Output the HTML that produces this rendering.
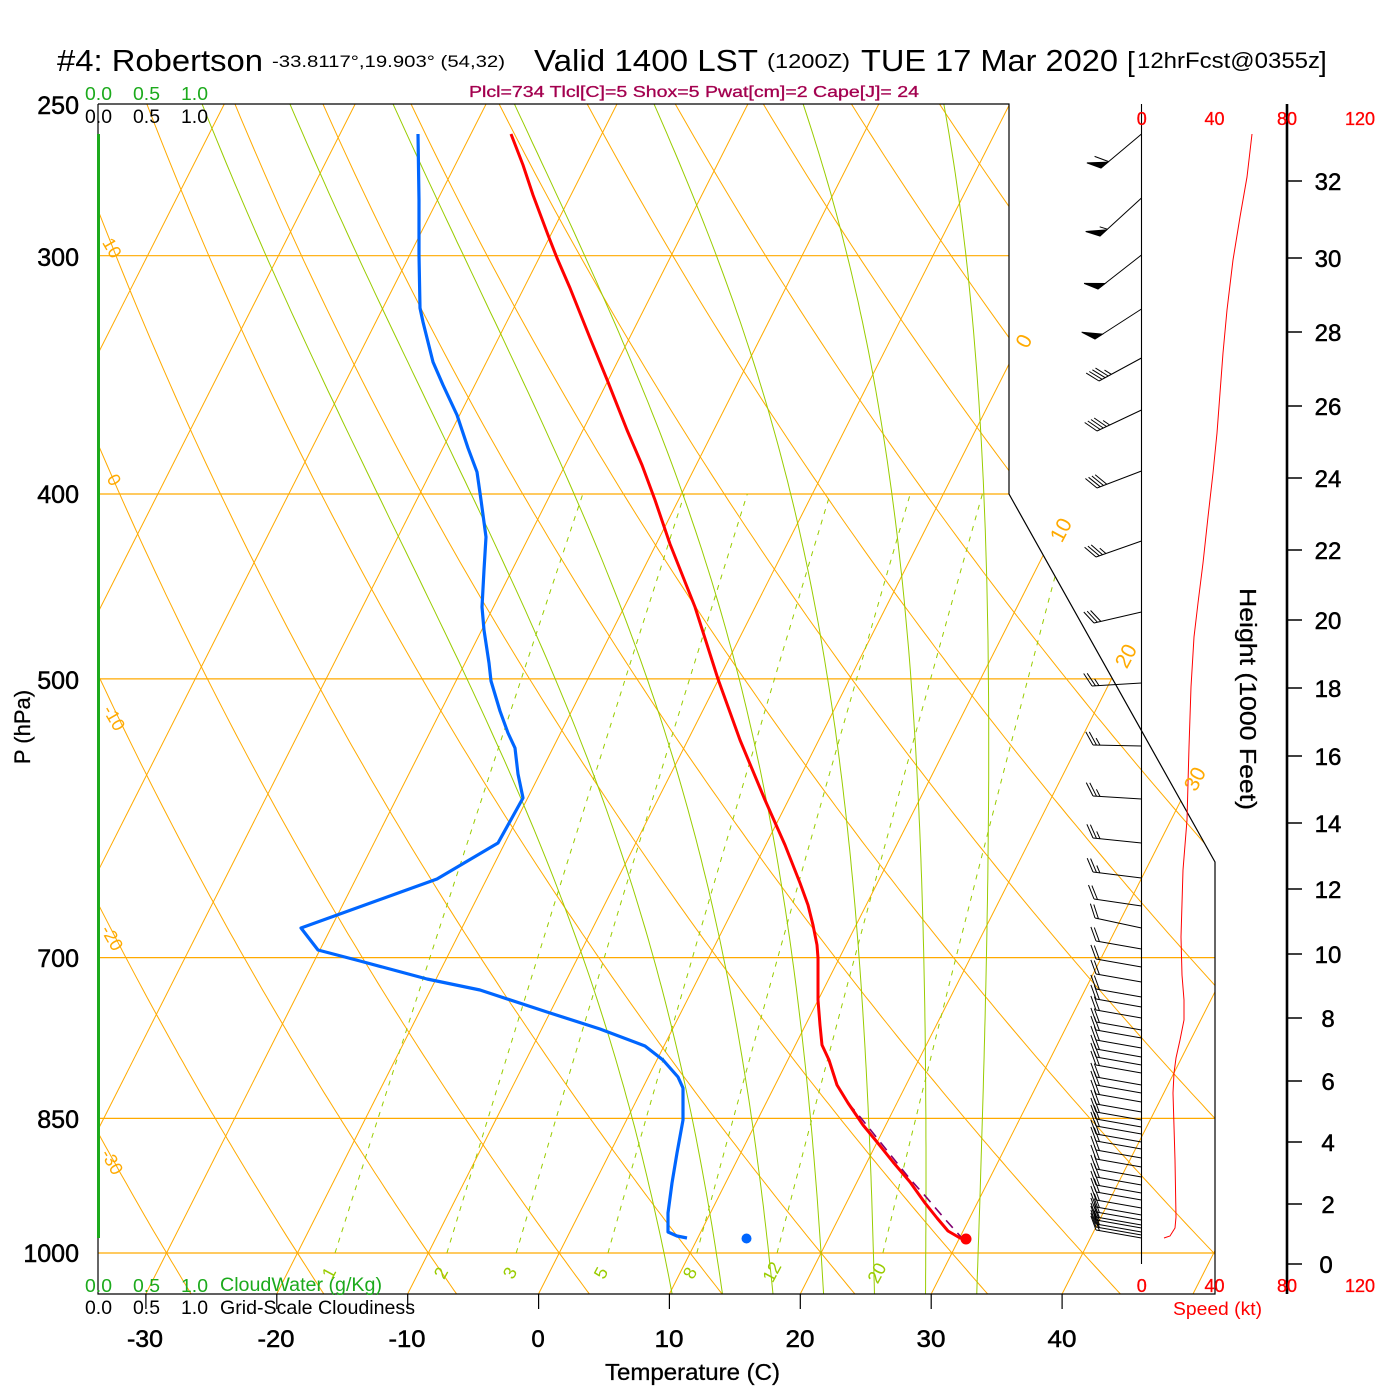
<!DOCTYPE html>
<html><head><meta charset="utf-8">
<style>
html,body{margin:0;padding:0;background:#fff;}
svg{display:block;}
text{font-family:"Liberation Sans",Arial,sans-serif;}
</style></head><body>
<svg id="c" xmlns="http://www.w3.org/2000/svg" width="1400" height="1400" viewBox="0 0 1400 1400">
<rect width="1400" height="1400" fill="#fff"/>
<defs><clipPath id="cp"><polygon points="98,104 1009,104 1009,494 1215,862 1215,1294 98,1294"/></clipPath></defs>
<g id="grid" clip-path="url(#cp)" fill="none"></g>

<!-- frame -->
<polyline points="98,104 1009,104 1009,494 1215,862 1215,1294 98,1294 98,104" fill="none" stroke="#000" stroke-width="1.2"/>
<line x1="98.5" y1="134" x2="98.5" y2="1238" stroke="#1caa1c" stroke-width="3"/>

<!-- bottom ticks -->
<g stroke="#000" stroke-width="1.2">
<line x1="145.9" y1="1294" x2="145.9" y2="1309"/>
<line x1="276.8" y1="1294" x2="276.8" y2="1309"/>
<line x1="407.7" y1="1294" x2="407.7" y2="1309"/>
<line x1="538.6" y1="1294" x2="538.6" y2="1309"/>
<line x1="669.4" y1="1294" x2="669.4" y2="1309"/>
<line x1="800.3" y1="1294" x2="800.3" y2="1309"/>
<line x1="931.2" y1="1294" x2="931.2" y2="1309"/>
<line x1="1062.1" y1="1294" x2="1062.1" y2="1309"/>
</g>

<!-- parcel dashed -->
<polyline points="848,1103 861,1118 877,1138 893,1158 910,1179 927,1198 944,1218 961,1237" fill="none" stroke="#800070" stroke-width="1.6" stroke-dasharray="10,7"/>

<!-- temperature profile -->
<polyline fill="none" stroke="#ff0000" stroke-width="3" stroke-linejoin="round" points="511,134 523,165 533,195 548,235 557,258 570,288 590,338 608,382 627,430 642,465 655,500 670,544 695,607 718,679 740,740 765,800 785,845 800,883 808,905 813,925 817,945 818,958 818,1000 820,1025 822,1045 829,1060 837,1085 848,1103 863,1125 877,1142 893,1162 910,1182 925,1203 937,1218 948,1231 960,1238 966,1239"/>
<!-- dewpoint profile -->
<polyline fill="none" stroke="#0066ff" stroke-width="3.2" stroke-linejoin="round" points="418,134 419,200 419,255 420,308 423,322 433,362 443,385 457,415 468,448 477,472 481,500 486,537 484,570 482,607 484,630 489,663 491,681 500,711 508,733 515,748 518,774 523,798 498,843 437,879 301,928 318,950 360,961 427,979 480,990 547,1012 600,1029 645,1046 663,1060 678,1077 683,1088 683,1120 677,1153 672,1183 668,1213 668,1232 677,1236 687,1238"/>
<circle cx="966" cy="1239" r="5.5" fill="#ff0000"/>
<circle cx="746.5" cy="1238.5" r="5" fill="#0066ff"/>

<!-- wind staff and height axis -->
<line x1="1141.5" y1="104" x2="1141.5" y2="1264" stroke="#000" stroke-width="1.1"/>
<g id="barbs" stroke="#000" stroke-width="1" fill="#000"></g>
<polyline fill="none" stroke="#ff0000" stroke-width="1" points="1252,134 1247,177 1240,217 1233,260 1227,310 1223,353 1220,393 1217,433 1213,473 1208,517 1203,563 1198,603 1194,637 1191,687 1189,747 1187,820 1183,870 1181,937 1182,975 1184,1000 1184,1020 1180,1040 1176,1058 1174,1073 1173,1093 1175,1160 1176,1217 1175,1228 1170,1236 1164,1238"/>
<line x1="1287" y1="104" x2="1287" y2="1294" stroke="#000" stroke-width="2.6"/>
<g stroke="#000" stroke-width="1.5">
<line x1="1287" y1="1264" x2="1302" y2="1264"/>
<line x1="1287" y1="1204" x2="1302" y2="1204"/>
<line x1="1287" y1="1142" x2="1302" y2="1142"/>
<line x1="1287" y1="1081" x2="1302" y2="1081"/>
<line x1="1287" y1="1018" x2="1302" y2="1018"/>
<line x1="1287" y1="954" x2="1302" y2="954"/>
<line x1="1287" y1="889" x2="1302" y2="889"/>
<line x1="1287" y1="823" x2="1302" y2="823"/>
<line x1="1287" y1="756" x2="1302" y2="756"/>
<line x1="1287" y1="688" x2="1302" y2="688"/>
<line x1="1287" y1="620" x2="1302" y2="620"/>
<line x1="1287" y1="550" x2="1302" y2="550"/>
<line x1="1287" y1="478" x2="1302" y2="478"/>
<line x1="1287" y1="406" x2="1302" y2="406"/>
<line x1="1287" y1="332" x2="1302" y2="332"/>
<line x1="1287" y1="258" x2="1302" y2="258"/>
<line x1="1287" y1="181" x2="1302" y2="181"/>
</g>
<g font-size="24" text-anchor="middle" fill="#000" stroke="#000" stroke-width="0.5">
<text x="1326" y="1273">0</text>
<text x="1328" y="1213">2</text>
<text x="1328" y="1151">4</text>
<text x="1328" y="1090">6</text>
<text x="1328" y="1027">8</text>
<text x="1328" y="963">10</text>
<text x="1328" y="898">12</text>
<text x="1328" y="832">14</text>
<text x="1328" y="765">16</text>
<text x="1328" y="697">18</text>
<text x="1328" y="629">20</text>
<text x="1328" y="559">22</text>
<text x="1328" y="487">24</text>
<text x="1328" y="415">26</text>
<text x="1328" y="341">28</text>
<text x="1328" y="267">30</text>
<text x="1328" y="190">32</text>
</g>
<text transform="translate(1240,699) rotate(90)" font-size="23" text-anchor="middle" textLength="222" lengthAdjust="spacingAndGlyphs" stroke="#000" stroke-width="0.3">Height (1000 Feet)</text>

<!-- speed labels -->
<g font-size="18" fill="#ff0000" text-anchor="middle" stroke="#ff0000" stroke-width="0.3">
<text x="1141.7" y="125">0</text>
<text x="1214.5" y="125">40</text>
<text x="1287" y="125">80</text>
<text x="1360" y="125">120</text>
<text x="1141.7" y="1292">0</text>
<text x="1214.5" y="1292">40</text>
<text x="1287" y="1292">80</text>
<text x="1360" y="1292">120</text>
</g>
<text x="1173" y="1315" font-size="18" fill="#ff0000" textLength="89" lengthAdjust="spacingAndGlyphs">Speed (kt)</text>

<!-- titles -->
<text x="57" y="71" font-size="31" textLength="206" lengthAdjust="spacingAndGlyphs">#4: Robertson</text>
<text x="272" y="67" font-size="17" textLength="233" lengthAdjust="spacingAndGlyphs">-33.8117°,19.903° (54,32)</text>
<text x="534" y="71" font-size="31" textLength="224" lengthAdjust="spacingAndGlyphs">Valid 1400 LST</text>
<text x="767" y="68" font-size="20" textLength="83" lengthAdjust="spacingAndGlyphs">(1200Z)</text>
<text x="861" y="71" font-size="31" textLength="257" lengthAdjust="spacingAndGlyphs">TUE 17 Mar 2020</text>
<text x="1127" y="71" font-size="28">[</text>
<text x="1137" y="68" font-size="22" textLength="183" lengthAdjust="spacingAndGlyphs">12hrFcst@0355z</text>
<text x="1319" y="71" font-size="28">]</text>
<text x="469" y="97" font-size="16" fill="#a3004f" stroke="#a3004f" stroke-width="0.3" textLength="450" lengthAdjust="spacingAndGlyphs">Plcl=734 Tlcl[C]=5 Shox=5 Pwat[cm]=2 Cape[J]= 24</text>

<!-- cloud scales -->
<g font-size="18" fill="#1caa1c">
<text x="85" y="100" textLength="27" lengthAdjust="spacingAndGlyphs">0.0</text>
<text x="133" y="100" textLength="27" lengthAdjust="spacingAndGlyphs">0.5</text>
<text x="181" y="100" textLength="27" lengthAdjust="spacingAndGlyphs">1.0</text>
<text x="85" y="1292" textLength="27" lengthAdjust="spacingAndGlyphs">0.0</text>
<text x="133" y="1292" textLength="27" lengthAdjust="spacingAndGlyphs">0.5</text>
<text x="181" y="1292" textLength="27" lengthAdjust="spacingAndGlyphs">1.0</text>
<text x="220" y="1291" font-size="19" textLength="162" lengthAdjust="spacingAndGlyphs">CloudWater (g/Kg)</text>
</g>
<g font-size="19" fill="#000">
<text x="85" y="123" textLength="27" lengthAdjust="spacingAndGlyphs">0.0</text>
<text x="133" y="123" textLength="27" lengthAdjust="spacingAndGlyphs">0.5</text>
<text x="181" y="123" textLength="27" lengthAdjust="spacingAndGlyphs">1.0</text>
<text x="85" y="1314" textLength="27" lengthAdjust="spacingAndGlyphs">0.0</text>
<text x="133" y="1314" textLength="27" lengthAdjust="spacingAndGlyphs">0.5</text>
<text x="181" y="1314" textLength="27" lengthAdjust="spacingAndGlyphs">1.0</text>
<text x="220" y="1314" textLength="195" lengthAdjust="spacingAndGlyphs">Grid-Scale Cloudiness</text>
</g>

<!-- pressure labels -->
<g font-size="25" text-anchor="end" fill="#000" stroke="#000" stroke-width="0.5">
<text x="79" y="114">250</text>
<text x="79" y="266">300</text>
<text x="79" y="503">400</text>
<text x="79" y="689">500</text>
<text x="79" y="967">700</text>
<text x="79" y="1128">850</text>
<text x="79" y="1262">1000</text>
</g>
<text transform="translate(30,727) rotate(-90)" font-size="22" text-anchor="middle" stroke="#000" stroke-width="0.3">P (hPa)</text>

<!-- temperature labels -->
<g font-size="24" text-anchor="middle" fill="#000" stroke="#000" stroke-width="0.5">
<text x="145" y="1347" textLength="36" lengthAdjust="spacingAndGlyphs">-30</text>
<text x="276" y="1347" textLength="37" lengthAdjust="spacingAndGlyphs">-20</text>
<text x="407" y="1347" textLength="37" lengthAdjust="spacingAndGlyphs">-10</text>
<text x="538" y="1347">0</text>
<text x="669" y="1347" textLength="29" lengthAdjust="spacingAndGlyphs">10</text>
<text x="800" y="1347" textLength="29" lengthAdjust="spacingAndGlyphs">20</text>
<text x="931" y="1347" textLength="29" lengthAdjust="spacingAndGlyphs">30</text>
<text x="1062" y="1347" textLength="29" lengthAdjust="spacingAndGlyphs">40</text>
</g>
<text x="605" y="1380" font-size="23" textLength="175" lengthAdjust="spacingAndGlyphs" stroke="#000" stroke-width="0.3">Temperature (C)</text>

<!-- orange dry adiabat labels (left) -->
<g font-size="18" fill="#ffaa00" text-anchor="middle">
<text transform="translate(112,248) rotate(60)" y="6">10</text>
<text transform="translate(114,480) rotate(60)" y="6">0</text>
<text transform="translate(114,718) rotate(60)" y="6">-10</text>
<text transform="translate(112,938) rotate(60)" y="6">-20</text>
<text transform="translate(112,1162) rotate(60)" y="6">-30</text>
<!-- isotherm labels (right) -->
<text transform="translate(1024,341) rotate(-62)" y="7" font-size="21">0</text>
<text transform="translate(1061,530) rotate(-62)" y="7" font-size="21">10</text>
<text transform="translate(1126,656) rotate(-62)" y="7" font-size="21">20</text>
<text transform="translate(1195,779) rotate(-62)" y="7" font-size="21">30</text>
</g>
<!-- mixing ratio labels -->
<g font-size="18" fill="#99cc00" text-anchor="middle">
<text transform="translate(329,1273) rotate(-62)" y="6">1</text>
<text transform="translate(441,1273) rotate(-62)" y="6">2</text>
<text transform="translate(510,1273) rotate(-62)" y="6">3</text>
<text transform="translate(601,1273) rotate(-62)" y="6">5</text>
<text transform="translate(690,1273) rotate(-62)" y="6">8</text>
<text transform="translate(772,1272) rotate(-62)" y="6">12</text>
<text transform="translate(877,1273) rotate(-62)" y="6">20</text>
</g>
</svg>
<script>
(function(){
var NS="http://www.w3.org/2000/svg";
var X0=538.5,S=13.09,SK=0.506,YB=1294;
function yP(p){return 1253-828.3*Math.log(1000/p);}
function xT(Tc,y){return X0+S*Tc+SK*(YB-y);}
var g=document.getElementById('grid');
function pl(parent,pts,attrs){var e=document.createElementNS(NS,'polyline');
 e.setAttribute('points',pts.map(function(q){return q[0].toFixed(1)+','+q[1].toFixed(1);}).join(' '));
 for(var k in attrs)e.setAttribute(k,attrs[k]);parent.appendChild(e);return e;}
var OR='#ffaa00',GR='#99cc00';
// isobars
[300,400,500,700,850,1000].forEach(function(p){var y=yP(p);pl(g,[[98,y],[1215,y]],{stroke:OR,'stroke-width':1.2});});
// isotherms
for(var T=-150;T<=50;T+=10){pl(g,[[xT(T,1294),1294],[xT(T,104),104]],{stroke:OR,'stroke-width':1});}
// dry adiabats
for(var th=-60;th<=230;th+=10){var pts=[];for(var p=1052;p>=248;p-=6){var y=yP(p);var Tc=(th+273.15)*Math.pow(p/1000,0.2857)-273.15;pts.push([xT(Tc,y),y]);}pl(g,pts,{stroke:OR,'stroke-width':1});}
// moist adiabats
function es(Tc){return 6.112*Math.exp(17.67*Tc/(Tc+243.5));}
var Rd=287.04,Cp=1005.7,Lv=2.501e6,eps=0.622;
function gm(TK,p){var e=es(TK-273.15),rs=eps*e/(p-e);return (Rd*TK+Lv*rs)/(Cp+Lv*Lv*rs*eps/(Rd*TK*TK));}
[8,12,16,20,24,28,32].forEach(function(tw){
 var h=0.004,TK=tw+273.15,lp=Math.log(1000),down=[],up=[];
 while(lp<Math.log(1052)){var p=Math.exp(lp);var k1=gm(TK,p);var k2=gm(TK+k1*h/2,Math.exp(lp+h/2));TK+=k2*h;lp+=h;down.push([TK,Math.exp(lp)]);}
 TK=tw+273.15;lp=Math.log(1000);
 while(lp>Math.log(248)){var p2=Math.exp(lp);var a1=gm(TK,p2);var a2=gm(TK-a1*h/2,Math.exp(lp-h/2));TK-=a2*h;lp-=h;up.push([TK,Math.exp(lp)]);}
 var all=down.reverse().concat([[tw+273.15,1000]]).concat(up);
 var pts=[];for(var i=0;i<all.length;i+=3){var y=yP(all[i][1]);pts.push([xT(all[i][0]-273.15,y),y]);}
 pl(g,pts,{stroke:GR,'stroke-width':1});
});
// mixing ratio
[1,2,3,5,8,12,20].forEach(function(w){var pts=[];for(var p=1000;p>=399;p-=10){var e=w*p/(622+w);var L=Math.log(e/6.112);var Tc=243.5*L/(17.67-L);var y=yP(p);pts.push([xT(Tc,y),y]);}
 pl(g,pts,{stroke:GR,'stroke-width':1,'stroke-dasharray':'5,6'});});

// barbs
var bg=document.getElementById('barbs');
function ln(x1,y1,x2,y2){var e=document.createElementNS(NS,'line');e.setAttribute('x1',x1.toFixed(1));e.setAttribute('y1',y1.toFixed(1));e.setAttribute('x2',x2.toFixed(1));e.setAttribute('y2',y2.toFixed(1));bg.appendChild(e);}
function barb(ty,tx2,ty2,spd){
 var tx=1141.5;ln(tx,ty,tx2,ty2);
 var dx=tx2-tx,dy=ty2-ty,L=Math.sqrt(dx*dx+dy*dy),ux=dx/L,uy=dy/L;
 var a=Math.atan2(uy,ux)+Math.PI/3,bx=Math.cos(a),by=Math.sin(a);
 var n50=Math.floor(spd/50),r=spd-50*n50,n10=Math.floor(r/10),n5=(r-10*n10)>=5?1:0;
 var pos=0,i;
 for(i=0;i<n50;i++){var ax=tx2-ux*pos,ay=ty2-uy*pos,cx=tx2-ux*(pos+9),cy=ty2-uy*(pos+9);
  var e=document.createElementNS(NS,'polygon');e.setAttribute('points',ax.toFixed(1)+','+ay.toFixed(1)+' '+cx.toFixed(1)+','+cy.toFixed(1)+' '+(ax+bx*15).toFixed(1)+','+(ay+by*15).toFixed(1));bg.appendChild(e);pos+=10;}
 for(i=0;i<n10;i++){var qx=tx2-ux*pos,qy=ty2-uy*pos;ln(qx,qy,qx+bx*15,qy+by*15);pos+=3.5;}
 if(n5){var sx=tx2-ux*pos,sy=ty2-uy*pos;ln(sx,sy,sx+bx*8,sy+by*8);}
}
var upper=[[134,1101,168,60],[198,1100,236,55],[255,1098,289,50],[309,1095,339,50],[358,1099,381,45],[410,1097,431,45],[471,1097,488,40],[541,1096,557,35],[612,1094,623,30],[683,1092,686,25],[746,1093,745,25],[799,1093,796,25],[843,1093,838,25],[878,1093,872,25],[906,1094,899,20],[928,1095,918,20]];
upper.forEach(function(b){barb(b[0],b[1],b[2],b[3]);});
var lower=[949,967,982,997,1007,1018,1030,1038,1048,1057,1065,1073,1085,1093,1102,1112,1120,1127,1134,1142,1149,1158,1167,1177,1185,1193,1200,1208,1215,1220,1225,1228,1232,1235,1238];
lower.forEach(function(y){barb(y,1096,y-8,20);});
})();
</script>
</body></html>
